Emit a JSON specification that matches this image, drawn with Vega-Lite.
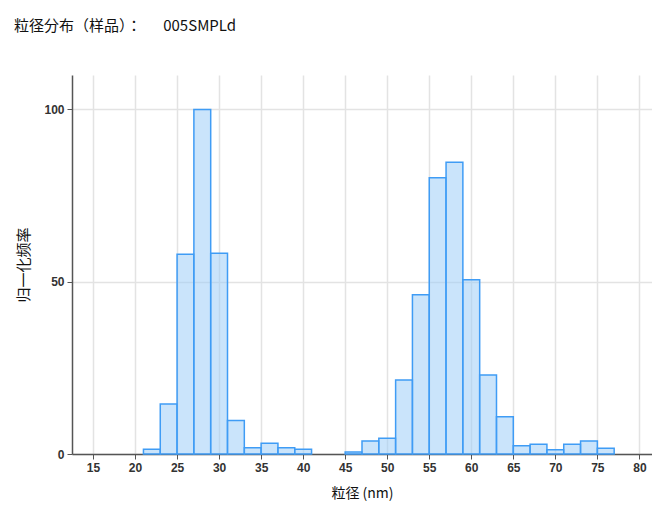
{
  "$schema": "https://vega.github.io/schema/vega-lite/v6.json",
  "width": 580,
  "height": 379,
  "autosize": {"type": "none"},
  "padding": {"left": 72, "top": 75, "right": 0, "bottom": 58},
  "background": "white",
  "title": {
    "text": "粒径分布（样品）：\u00a0\u3000\u00a0005SMPLd",
    "anchor": "start",
    "frame": "group",
    "dx": -58,
    "offset": 41,
    "font": "Noto Sans CJK JP",
    "fontSize": 15,
    "fontWeight": "normal",
    "color": "#111111"
  },
  "data": {
    "values": [
      {"start": 21, "end": 23, "freq": 1.4},
      {"start": 23, "end": 25, "freq": 14.5},
      {"start": 25, "end": 27, "freq": 58.0},
      {"start": 27, "end": 29, "freq": 100},
      {"start": 29, "end": 31, "freq": 58.3},
      {"start": 31, "end": 33, "freq": 9.7},
      {"start": 33, "end": 35, "freq": 1.8},
      {"start": 35, "end": 37, "freq": 3.1},
      {"start": 37, "end": 39, "freq": 1.8},
      {"start": 39, "end": 41, "freq": 1.4},
      {"start": 45, "end": 47, "freq": 0.6},
      {"start": 47, "end": 49, "freq": 3.8},
      {"start": 49, "end": 51, "freq": 4.6},
      {"start": 51, "end": 53, "freq": 21.5},
      {"start": 53, "end": 55, "freq": 46.2},
      {"start": 55, "end": 57, "freq": 80.2},
      {"start": 57, "end": 59, "freq": 84.7},
      {"start": 59, "end": 61, "freq": 50.6},
      {"start": 61, "end": 63, "freq": 22.9},
      {"start": 63, "end": 65, "freq": 10.8},
      {"start": 65, "end": 67, "freq": 2.4},
      {"start": 67, "end": 69, "freq": 2.8},
      {"start": 69, "end": 71, "freq": 1.25},
      {"start": 71, "end": 73, "freq": 2.8},
      {"start": 73, "end": 75, "freq": 3.8},
      {"start": 75, "end": 77, "freq": 1.7}
    ]
  },
  "mark": {
    "type": "rect",
    "fill": "#9fcdf7",
    "fillOpacity": 0.55,
    "stroke": "#3f9cf5",
    "strokeWidth": 1.5
  },
  "encoding": {
    "x": {
      "field": "start",
      "type": "quantitative",
      "scale": {"domain": [12.5, 81.5], "nice": false, "zero": false},
      "axis": {
        "title": "粒径 (nm)",
        "values": [15, 20, 25, 30, 35, 40, 45, 50, 55, 60, 65, 70, 75, 80],
        "grid": true,
        "gridColor": "#e3e3e3",
        "gridWidth": 1.5,
        "domainColor": "#555555",
        "domainWidth": 1.5,
        "tickColor": "#555555",
        "tickSize": 5,
        "labelFont": "Liberation Sans",
        "labelFontSize": 12,
        "labelFontWeight": "bold",
        "labelColor": "#333333",
        "labelPadding": 3,
        "titleFont": "Noto Sans CJK JP",
        "titleFontSize": 14,
        "titleFontWeight": "normal",
        "titleColor": "#111111",
        "titlePadding": 13
      }
    },
    "x2": {"field": "end"},
    "y": {
      "field": "freq",
      "type": "quantitative",
      "scale": {"domain": [0, 110], "nice": false},
      "axis": {
        "title": "归一化频率",
        "values": [0, 50, 100],
        "grid": true,
        "gridColor": "#e3e3e3",
        "gridWidth": 1.5,
        "domainColor": "#555555",
        "domainWidth": 1.5,
        "tickColor": "#555555",
        "tickSize": 5,
        "labelFont": "Liberation Sans",
        "labelFontSize": 12,
        "labelFontWeight": "bold",
        "labelColor": "#333333",
        "labelPadding": 3,
        "titleFont": "Noto Sans CJK JP",
        "titleFontSize": 15,
        "titleFontWeight": "normal",
        "titleColor": "#111111",
        "titlePadding": 12
      }
    },
    "y2": {"datum": 0}
  },
  "config": {"view": {"stroke": null}}
}
